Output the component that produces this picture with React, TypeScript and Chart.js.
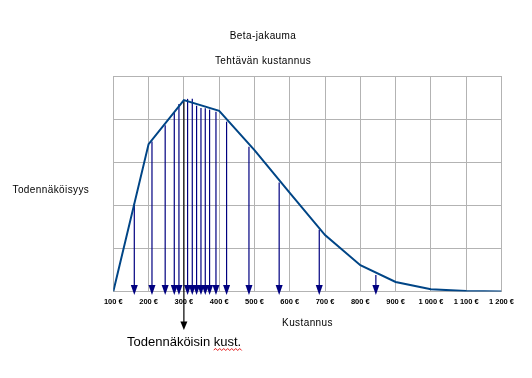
import React, { useEffect, useRef } from "react";
import { Chart, registerables } from "chart.js";

Chart.register(...registerables);

// ---- data ----
const costs = [100, 200, 300, 400, 500, 600, 700, 800, 900, 1000, 1100, 1200];
const density = [0, 3.42, 4.44, 4.19, 3.28, 2.29, 1.31, 0.61, 0.22, 0.05, 0.01, 0];
const sampleCosts = [159.5, 209.6, 247, 272.8, 286, 310.5, 323.8, 336, 348.4, 360.6, 372.8, 390.9, 421, 484.4, 570, 683.6, 844];
const sampleHeights = [2.04, 3.48, 3.86, 4.16, 4.35, 4.47, 4.47, 4.31, 4.26, 4.25, 4.22, 4.17, 3.94, 3.36, 2.53, 1.43, 0.38];
const modeCost = 300;
const modeHeight = 4.44;
const chartTitle = "Beta-jakauma";
const chartSubtitle = "Tehtävän kustannus";
const xTitle = "Kustannus";
const yTitle = "Todennäköisyys";
const modeWord = "Todennäköisin";
const modeWord2 = "kust.";

const fmtCost = (v: number) => {
  const s = v >= 1000 ? `${Math.floor(v / 1000)} ${String(v % 1000).padStart(3, "0")}` : String(v);
  return `${s} €`;
};

const FONT = '"Liberation Sans", Arial, sans-serif';

const arrowsPlugin = {
  id: "arrows",
  beforeDatasetsDraw(chart: any) {
    const { ctx, scales } = chart;
    const x = scales.x;
    const y = scales.y;
    const base = y.getPixelForValue(0);
    ctx.save();
    ctx.strokeStyle = "#000080";
    ctx.fillStyle = "#000080";
    ctx.lineWidth = 1.2;
    sampleCosts.forEach((c, i) => {
      const px = x.getPixelForValue(c);
      const top = y.getPixelForValue(sampleHeights[i]);
      ctx.beginPath();
      ctx.moveTo(px, top);
      ctx.lineTo(px, base - 5);
      ctx.stroke();
      ctx.beginPath();
      ctx.moveTo(px - 3.5, base - 6.5);
      ctx.lineTo(px + 3.5, base - 6.5);
      ctx.lineTo(px, base + 3.5);
      ctx.closePath();
      ctx.fill();
    });
    // mode line (black)
    const mx = x.getPixelForValue(modeCost);
    const mtop = y.getPixelForValue(modeHeight);
    ctx.strokeStyle = "#000000";
    ctx.fillStyle = "#000000";
    ctx.lineWidth = 1.2;
    ctx.beginPath();
    ctx.moveTo(mx, mtop);
    ctx.lineTo(mx, 323);
    ctx.stroke();
    ctx.beginPath();
    ctx.moveTo(mx - 3.5, 321.5);
    ctx.lineTo(mx + 3.5, 321.5);
    ctx.lineTo(mx, 330);
    ctx.closePath();
    ctx.fill();
    ctx.restore();
  },
  afterDraw(chart: any) {
    const { ctx } = chart;
    ctx.save();
    ctx.fillStyle = "#000000";
    ctx.textBaseline = "alphabetic";
    try { (ctx as any).letterSpacing = "0.4px"; } catch (e) {}
    ctx.font = `10px ${FONT}`;
    ctx.textAlign = "center";
    ctx.fillText(chartTitle, 263, 38.5);
    ctx.fillText(chartSubtitle, 263, 63.5);
    ctx.fillText(xTitle, 307.5, 325.5);
    ctx.textAlign = "left";
    ctx.fillText(yTitle, 12.5, 193);
    try { (ctx as any).letterSpacing = "0px"; } catch (e) {}
    ctx.font = `13px ${FONT}`;
    const w1 = ctx.measureText(modeWord + " ").width;
    ctx.fillText(modeWord + " " + modeWord2, 127, 346);
    const w2 = ctx.measureText(modeWord2.slice(0, -1)).width;
    // wavy spell-check underline
    const sx = 127 + w1;
    const ex = sx + w2 + 4;
    ctx.strokeStyle = "#e00000";
    ctx.lineWidth = 0.9;
    ctx.beginPath();
    let up = true;
    ctx.moveTo(sx, 350);
    for (let px = sx; px < ex; px += 2) {
      ctx.lineTo(px + 2, up ? 348.5 : 350.5);
      up = !up;
    }
    ctx.stroke();
    ctx.restore();
  },
};

export default function App() {
  const ref = useRef<HTMLCanvasElement | null>(null);
  useEffect(() => {
    if (!ref.current) return;
    const chart = new Chart(ref.current, {
      type: "line",
      data: {
        datasets: [
          {
            data: costs.map((c, i) => ({ x: c, y: density[i] })),
            borderColor: "#004586",
            borderWidth: 2,
            pointRadius: 0,
            tension: 0,
            fill: false,
          },
        ],
      },
      options: {
        responsive: false,
        animation: false,
        devicePixelRatio: 1,
        layout: { padding: { left: 113.3, right: 30.5, top: 76, bottom: 56.5 } },
        plugins: { legend: { display: false }, tooltip: { enabled: false }, title: { display: false } },
        scales: {
          x: {
            type: "linear",
            min: 100,
            max: 1200,
            afterFit: (s: any) => { s.height = 30; },
            afterBuildTicks: (s: any) => { s.ticks = costs.map((v) => ({ value: v })); },
            ticks: {
              callback: (v: any) => fmtCost(Number(v)),
              font: { family: FONT, size: 7.5, weight: "bold" },
              color: "#000000",
              padding: 5.5,
              maxRotation: 0,
              autoSkip: false,
            },
            grid: { color: "#b3b3b3", drawTicks: false, lineWidth: 1 },
            border: { display: false },
          },
          y: {
            min: 0,
            max: 5,
            afterFit: (s: any) => { s.width = 0; },
            ticks: { display: false, stepSize: 1 },
            grid: { color: "#b3b3b3", drawTicks: false, lineWidth: 1 },
            border: { display: false },
          },
        },
      },
      plugins: [arrowsPlugin],
    } as any);
    return () => chart.destroy();
  }, []);
  return (
    <div style={{ position: "fixed", left: 0, top: 0, width: 532, height: 378, background: "#ffffff" }}>
      <canvas ref={ref} width={532} height={378} style={{ width: 532, height: 378, display: "block" }} />
    </div>
  );
}
